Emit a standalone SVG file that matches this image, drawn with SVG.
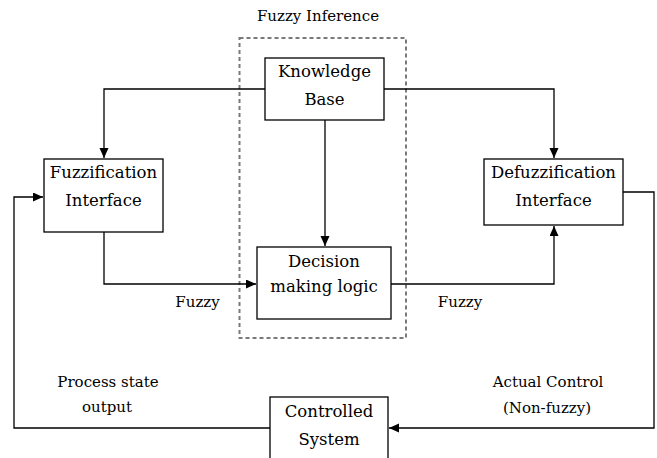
<svg xmlns="http://www.w3.org/2000/svg" width="657" height="458" viewBox="0 0 657 458">
<style>
.box{fill:#fff;stroke:#000;stroke-width:1.3}
.t{font-family:'DejaVu Serif',serif;font-size:16.5px;fill:#000;text-anchor:middle}
.l{font-family:'DejaVu Serif',serif;font-size:15px;fill:#000;text-anchor:middle}
.c{fill:none;stroke:#000;stroke-width:1.3}
.dash{fill:none;stroke:#7a7a7a;stroke-width:2;stroke-dasharray:4 3}
</style>
<defs>
<marker id="ah" markerUnits="userSpaceOnUse" markerWidth="12" markerHeight="10" refX="10" refY="4.5" orient="auto">
<path d="M0,0 L10,4.5 L0,9 z" fill="#000"/>
</marker>
</defs>
<rect fill="#fff" x="0" y="0" width="657" height="458"/>
<g id="fuzzy-inference">
<rect class="dash" x="239.5" y="38" width="166.5" height="300"/>
<text class="l" x="318" y="21">Fuzzy Inference</text>
</g>
<g id="connectors">
<path class="c" d="M265,89 H104 V158" marker-end="url(#ah)"/>
<path class="c" d="M384,89 H554 V158" marker-end="url(#ah)"/>
<path class="c" d="M325,120 V246" marker-end="url(#ah)"/>
<path class="c" d="M104,232 V284 H256" marker-end="url(#ah)"/>
<path class="c" d="M391,284 H554 V226" marker-end="url(#ah)"/>
<path class="c" d="M623,192 H654 V428 H389" marker-end="url(#ah)"/>
<path class="c" d="M270,428 H14 V197 H43" marker-end="url(#ah)"/>
<text class="l" x="197.5" y="307">Fuzzy</text>
<text class="l" x="460" y="307">Fuzzy</text>
<text class="l" x="108" y="387">Process state</text>
<text class="l" x="107" y="412">output</text>
<text class="l" x="548" y="387">Actual Control</text>
<text class="l" x="547" y="413">(Non-fuzzy)</text>
</g>
<g id="knowledge-base">
<rect class="box" x="265" y="58" width="119" height="62"/>
<text class="t" x="324.5" y="77">Knowledge</text>
<text class="t" x="324.5" y="105">Base</text>
</g>
<g id="decision-logic">
<rect class="box" x="257" y="247" width="134" height="72"/>
<text class="t" x="324" y="267">Decision</text>
<text class="t" x="324" y="292">making logic</text>
</g>
<g id="fuzzification">
<rect class="box" x="44" y="159" width="119" height="73"/>
<text class="t" x="103.5" y="178">Fuzzification</text>
<text class="t" x="103.5" y="206">Interface</text>
</g>
<g id="defuzzification">
<rect class="box" x="484" y="159" width="139" height="66"/>
<text class="t" x="553.5" y="178">Defuzzification</text>
<text class="t" x="553.5" y="206">Interface</text>
</g>
<g id="controlled-system">
<rect class="box" x="270" y="397" width="118" height="70"/>
<text class="t" x="329" y="417">Controlled</text>
<text class="t" x="329" y="445">System</text>
</g>
</svg>
